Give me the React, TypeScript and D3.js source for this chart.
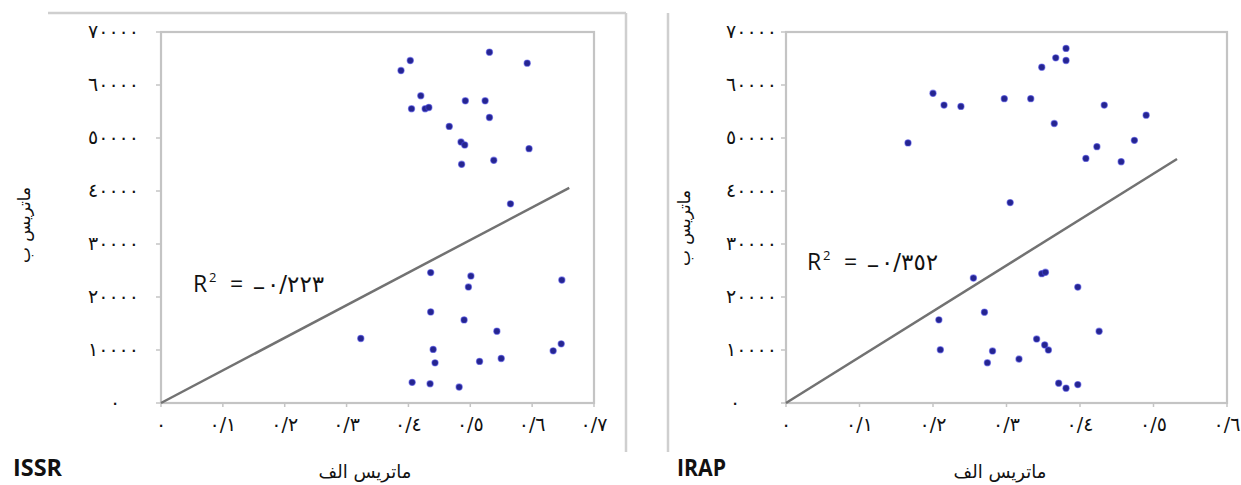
import * as d3 from "d3";

// ISSR panel values (x = matrix A, y = matrix B)
const issrX = [
  0.531, 0.403, 0.388, 0.592, 0.42, 0.405, 0.427, 0.433, 0.492, 0.524, 0.531, 0.466,
  0.485, 0.491, 0.595, 0.538, 0.486, 0.565, 0.436, 0.501, 0.648, 0.497, 0.436, 0.49,
  0.543, 0.323, 0.44, 0.647, 0.634, 0.443, 0.515, 0.55, 0.406, 0.435, 0.482,
];
const issrY = [
  66190, 64610, 62730, 64120, 57970, 55520, 55520, 55760, 57020, 57020, 53880, 52190,
  49250, 48690, 47990, 45790, 45040, 37580, 24600, 23960, 23200, 21890, 17180, 15680,
  13550, 12180, 10110, 11160, 9840, 7580, 7850, 8410, 3900, 3630, 3010,
];

// IRAP panel values
const irapX = [
  0.381, 0.367, 0.381, 0.348, 0.2, 0.215, 0.238, 0.297, 0.333, 0.433, 0.365, 0.166,
  0.423, 0.408, 0.456, 0.49, 0.474, 0.305, 0.255, 0.348, 0.353, 0.397, 0.27, 0.208,
  0.426, 0.341, 0.352, 0.357, 0.21, 0.281, 0.274, 0.317, 0.371, 0.381, 0.397,
];
const irapY = [
  66910, 65120, 64630, 63360, 58430, 56210, 55960, 57420, 57420, 56210, 52740, 49080,
  48370, 46150, 45530, 54310, 49560, 37810, 23580, 24410, 24660, 21870, 17130, 15690,
  13530, 12080, 10950, 10000, 10050, 9810, 7590, 8290, 3740, 2790, 3470,
];

// trend line end points (lines start at the origin)
const issrTrend = [0.66, 40600];
const irapTrend = [0.532, 46040];

const issrXTicks = ["٠", "٠/١", "٠/٢", "٠/٣", "٠/٤", "٠/٥", "٠/٦", "٠/٧"];
const irapXTicks = ["٠", "٠/١", "٠/٢", "٠/٣", "٠/٤", "٠/٥", "٠/٦"];
const yTickLabels = ["٠", "١٠٠٠٠", "٢٠٠٠٠", "٣٠٠٠٠", "٤٠٠٠٠", "٥٠٠٠٠", "٦٠٠٠٠", "٧٠٠٠٠"];

const issrR2 = "٠/٢٢٣";
const irapR2 = "٠/٣٥٢";
const xTitle = "ماتریس الف";
const yTitle = "ماتریس ب";

const FRAME = "#c4c4c4";
const TEXT = "#111";
const DIGITS = "DejaVu Sans, sans-serif";

type PanelProps = {
  xs: number[];
  ys: number[];
  trend: number[];
  xTicks: string[];
  r2: string;
  name: string;
  left: number;
  right: number;
  labelRight: number;
  zeroX: number;
  r2X: number;
  r2Y: number;
  yTitleX: number;
  yTitleY: number;
  xTitleX: number;
  nameX: number;
};

function Panel(p: PanelProps) {
  const xMax = (p.xTicks.length - 1) / 10;
  const x = d3.scaleLinear().domain([0, xMax]).range([p.left, p.right]);
  const y = d3.scaleLinear().domain([0, 70000]).range([403, 32]);
  const yVals = d3.range(0, 70001, 10000);

  return (
    <g>
      <rect
        x={x(0)}
        y={y(70000)}
        width={x(xMax) - x(0)}
        height={y(0) - y(70000)}
        fill="none"
        stroke={FRAME}
        strokeWidth={2.2}
      />
      {yVals.map((v, i) => (
        <g key={"y" + i}>
          <line x1={x(0) - 5} x2={x(0)} y1={y(v)} y2={y(v)} stroke={FRAME} strokeWidth={1.5} />
          <text
            x={i === 0 ? p.zeroX : p.labelRight}
            y={y(v)}
            dy="0.3em"
            textAnchor={i === 0 ? "middle" : "end"}
            fontFamily={DIGITS}
            fontSize={19}
            letterSpacing={i === 0 ? 0 : 6.5}
            fill={TEXT}
          >
            {yTickLabels[i]}
          </text>
        </g>
      ))}
      {p.xTicks.map((t, i) => (
        <g key={"x" + i}>
          <line x1={x(i / 10)} x2={x(i / 10)} y1={y(0)} y2={y(0) + 4} stroke={FRAME} strokeWidth={1.5} />
          <text
            x={x(i / 10)}
            y={y(0) + 22}
            dy="0.3em"
            textAnchor="middle"
            fontFamily={DIGITS}
            fontSize={19}
            letterSpacing={2.5}
            fill={TEXT}
          >
            {t}
          </text>
        </g>
      ))}
      <line
        x1={x(0)}
        y1={y(0)}
        x2={x(p.trend[0])}
        y2={y(p.trend[1])}
        stroke="#727272"
        strokeWidth={2.5}
      />
      {p.xs.map((v, i) => (
        <circle
          key={"p" + i}
          cx={x(v)}
          cy={y(p.ys[i])}
          r={3.1}
          fill="#25258f"
          stroke="#4646e0"
          strokeOpacity={0.55}
          strokeWidth={1.2}
        />
      ))}
      <g fill={TEXT}>
        <text x={p.r2X} y={p.r2Y} fontFamily="Open Sans, sans-serif" fontSize={23}>R</text>
        <text x={p.r2X + 16} y={p.r2Y - 10} fontFamily="Open Sans, sans-serif" fontSize={13}>2</text>
        <text x={p.r2X + 37} y={p.r2Y} fontFamily="Open Sans, sans-serif" fontSize={23}>=</text>
        <text x={p.r2X + 60} y={p.r2Y + 3} fontFamily="Open Sans, sans-serif" fontSize={24}>–</text>
        <text x={p.r2X + 74} y={p.r2Y} fontFamily={DIGITS} fontSize={23} letterSpacing={4}>
          {p.r2}
        </text>
      </g>
      <text
        transform={`translate(${p.yTitleX},${p.yTitleY}) rotate(-90)`}
        textAnchor="middle"
        dy="0.35em"
        fontFamily={DIGITS}
        fontSize={17}
        fill={TEXT}
      >
        {yTitle}
      </text>
      <text x={p.xTitleX} y={478} textAnchor="middle" fontFamily={DIGITS} fontSize={18} fill={TEXT}>
        {xTitle}
      </text>
      <text
        x={p.nameX}
        y={476}
        fontFamily="Open Sans, sans-serif"
        fontWeight={700}
        fontSize={23}
        textLength={49}
        lengthAdjust="spacingAndGlyphs"
        fill="#111"
      >
        {p.name}
      </text>
    </g>
  );
}

export default function App() {
  return (
    <svg
      width={1241}
      height={485}
      style={{ position: "absolute", left: 0, top: 0, background: "#fff" }}
    >
      <line x1={48} x2={626} y1={13} y2={13} stroke="#cfcfcf" strokeWidth={2.5} />
      <line x1={626} x2={626} y1={13} y2={452} stroke="#cfcfcf" strokeWidth={2.5} />
      <line x1={668} x2={668} y1={13} y2={452} stroke="#cfcfcf" strokeWidth={2.5} />
      <Panel
        xs={issrX}
        ys={issrY}
        trend={issrTrend}
        xTicks={issrXTicks}
        r2={issrR2}
        name="ISSR"
        left={161}
        right={594}
        labelRight={139}
        zeroX={115}
        r2X={193}
        r2Y={292}
        yTitleX={24}
        yTitleY={225}
        xTitleX={365}
        nameX={13}
      />
      <Panel
        xs={irapX}
        ys={irapY}
        trend={irapTrend}
        xTicks={irapXTicks}
        r2={irapR2}
        name="IRAP"
        left={786}
        right={1227}
        labelRight={777}
        zeroX={735}
        r2X={807}
        r2Y={270}
        yTitleX={684}
        yTitleY={228}
        xTitleX={1000}
        nameX={677}
      />
    </svg>
  );
}
